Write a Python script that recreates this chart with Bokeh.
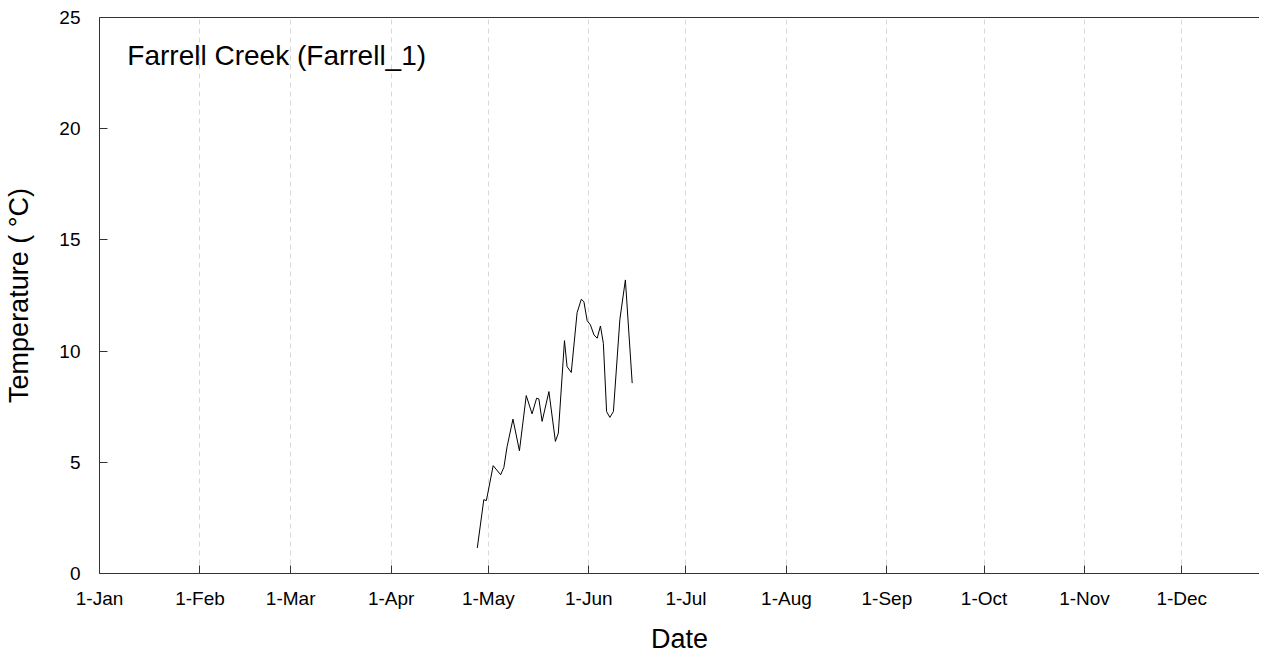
from bokeh.plotting import figure
from bokeh.models import FixedTicker, Range1d, Label, LinearAxis
from bokeh.embed import file_html
from bokeh.resources import INLINE

# Data: day of year (0 = 1-Jan) and water temperature (°C)
days = [116.6, 118.6, 119.4, 121.5, 123.8, 124.8, 125.8, 127.6, 129.6, 131.7,
        133.5, 134.9, 135.6, 136.6, 138.7, 140.7, 141.6, 143.5, 144.3, 145.6,
        147.4, 148.7, 149.5, 150.5, 151.5, 152.6, 153.6, 154.6, 155.5, 156.5,
        157.5, 158.6, 160.6, 162.3, 164.4]
temps = [1.15, 3.32, 3.28, 4.85, 4.44, 4.77, 5.71, 6.94, 5.52, 8.0,
         7.18, 7.88, 7.85, 6.84, 8.18, 5.94, 6.31, 10.47, 9.3, 9.04,
         11.73, 12.33, 12.22, 11.37, 11.18, 10.73, 10.58, 11.13, 10.35, 7.28,
         7.02, 7.28, 11.43, 13.2, 8.56]

month_ticks = [0, 31, 59, 90, 120, 151, 181, 212, 243, 273, 304, 334]
month_labels = ["1-Jan", "1-Feb", "1-Mar", "1-Apr", "1-May", "1-Jun",
                "1-Jul", "1-Aug", "1-Sep", "1-Oct", "1-Nov", "1-Dec"]
y_ticks = [0, 5, 10, 15, 20, 25]
title_text = "Farrell Creek (Farrell_1)"

FONT = "Liberation Sans"

p = figure(width=1259, height=656, output_backend="svg", toolbar_location=None,
           x_range=Range1d(0, 358), y_range=Range1d(0, 25),
           min_border_left=99, min_border_right=0, min_border_top=17,
           min_border_bottom=82)

p.line(days, temps, line_color="black", line_width=1)

xa = p.below[0]
ya = p.left[0]

# x axis
xa.ticker = FixedTicker(ticks=month_ticks)
xa.major_label_overrides = {t: l for t, l in zip(month_ticks, month_labels)}
xa.axis_label = "Date"
xa.axis_label_text_font = FONT
xa.axis_label_text_font_style = "normal"
xa.axis_label_text_font_size = "27px"
xa.axis_label_text_color = "black"
xa.axis_label_standoff = 12
xa.major_label_text_font = FONT
xa.major_label_text_font_size = "19px"
xa.major_label_standoff = 14
xa.major_tick_in = 8
xa.major_tick_out = 0
xa.minor_tick_in = 0
xa.minor_tick_out = 0
xa.axis_line_color = "#333333"
xa.major_tick_line_color = "#333333"
xa.major_label_text_color = "black"

# y axis
ya.ticker = FixedTicker(ticks=y_ticks)
ya.axis_label = "Temperature ( °C)"
ya.axis_label_text_font = FONT
ya.axis_label_text_font_style = "normal"
ya.axis_label_text_font_size = "27px"
ya.axis_label_text_color = "black"
ya.axis_label_standoff = 22
ya.major_label_text_font = FONT
ya.major_label_text_font_size = "19px"
ya.major_label_standoff = 19
ya.major_tick_in = 8
ya.major_tick_out = 0
ya.minor_tick_in = 0
ya.minor_tick_out = 0
ya.axis_line_color = "#333333"
ya.major_tick_line_color = "#333333"
ya.major_label_text_color = "black"

# the frame runs off the right edge in the reference: no right border
p.outline_line_color = None
top = LinearAxis(ticker=FixedTicker(ticks=[]), axis_line_color="#333333",
                 major_tick_in=0, major_tick_out=0, minor_tick_in=0,
                 minor_tick_out=0, major_label_text_font_size="0px",
                 major_label_standoff=0)
p.add_layout(top, "above")

p.xgrid.ticker = FixedTicker(ticks=month_ticks[1:])
p.xgrid.grid_line_color = "#d8d8d8"
p.xgrid.grid_line_dash = "5 4"
p.xgrid.grid_line_width = 1
p.ygrid.grid_line_color = None

p.add_layout(Label(x=8.6, y=23.3, text=title_text, text_font=FONT,
                   text_font_size="28px", text_baseline="middle",
                   text_align="left", text_color="black"))

open("out.html", "w").write(file_html(p, INLINE))
